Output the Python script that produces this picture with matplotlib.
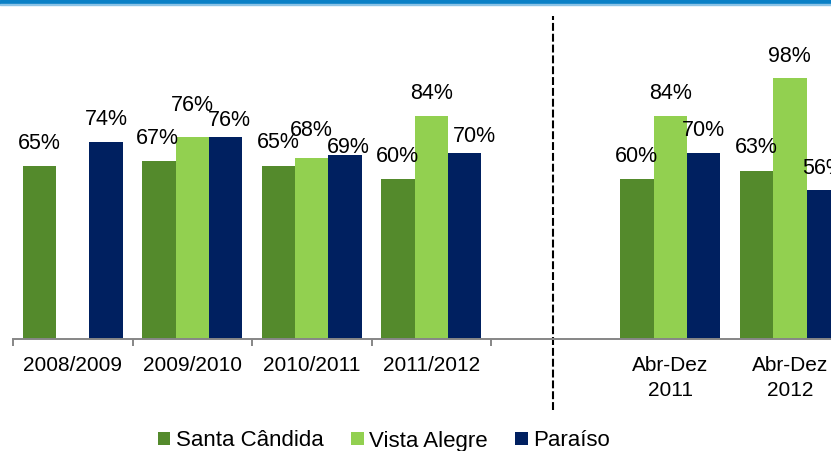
import numpy as np
import matplotlib
matplotlib.use('Agg')
import matplotlib.pyplot as plt
from matplotlib.patches import Patch, Rectangle

plt.rcParams['font.family'] = ['Liberation Sans', 'DejaVu Sans']

categorias = ['2008/2009', '2009/2010', '2010/2011', '2011/2012', '', 'Abr-Dez\n2011', 'Abr-Dez\n2012']
series = ['Santa Cândida', 'Vista Alegre', 'Paraíso']
santa_candida = [65, 67, 65, 60, np.nan, 60, 63]
vista_alegre = [np.nan, 76, 68, 84, np.nan, 84, 98]
paraiso = [74, 76, 69, 70, np.nan, 70, 56]

cores = ['#548A2C', '#92D050', '#002060']
# ajustes manuais dos rótulos (px: direita, cima)
ajustes = [
    [(0, 0), (-1, 0), (0, 1), (0, 0), (0, 0), (0, 0), (0, 1)],
    [(0, 0), (0, 9), (0, 5), (0, 0), (0, 0), (0, 0), (0, -1)],
    [(0, 0), (4, -6), (3, -15), (10, -6), (0, 0), (0, 0), (0, -1)],
]

fig = plt.figure(figsize=(8.31, 4.51), dpi=100)
ax = fig.add_axes([0, (451 - 339) / 451, 1, (339 - 10) / 451])

x = np.arange(len(categorias))
w = 0.28
px = 0.72  # pontos por pixel
for i, (vals, cor) in enumerate(zip([santa_candida, vista_alegre, paraiso], cores)):
    pos = x + (i - 1) * w
    ax.bar(pos, vals, width=w, color=cor, edgecolor='none')
    for j, v in enumerate(vals):
        if np.isnan(v):
            continue
        dx, dy = ajustes[i][j]
        ax.annotate('%d%%' % v, (pos[j], v), xytext=(dx * px, (22.5 + dy) * px),
                    textcoords='offset points', ha='center', va='center', fontsize=15.5)

ax.set_xlim(-0.5 - 13 / 119.5, 6.345)
ax.set_ylim(0, 329 / 2.66)
for s in ['left', 'right', 'top']:
    ax.spines[s].set_visible(False)
ax.spines['bottom'].set_color('#868686')
ax.spines['bottom'].set_linewidth(1.4)
ax.spines['bottom'].set_bounds(-0.5, 6.345)
ax.set_yticks([])
ax.set_xticks(x)
ax.set_xticklabels(categorias, fontsize=15, linespacing=1.4)
ax.tick_params(axis='x', which='major', length=0, pad=12)
ax.set_xticks(np.arange(-0.5, 4, 1), minor=True)
ax.tick_params(axis='x', which='minor', length=5, width=1.4, color='#868686', direction='out')

ax.axvline(4.02, ymin=(339 - 410) / 329, ymax=(339 - 16) / 329, color='black',
           lw=1.5, dashes=(3.8, 1.4), clip_on=False)

# faixa azul no topo
fig.patches.append(Rectangle((0, 1 - 3.5 / 451), 1, 3.5 / 451, transform=fig.transFigure,
                             color='#0A80C6', zorder=5))
fig.patches.append(Rectangle((0, 1 - 5 / 451), 1, 1.5 / 451, transform=fig.transFigure,
                             color='#8CC3E6', zorder=5))

handles = [Patch(facecolor=c, edgecolor='none') for c in cores]
fig.legend(handles, series, loc='center', bbox_to_anchor=(384 / 831, 1 - 441 / 451),
           ncol=3, frameon=False, fontsize=16, handlelength=0.55, handleheight=0.55,
           handletextpad=0.25, columnspacing=1.25, borderpad=0)

fig.savefig('out.png', dpi=100)
